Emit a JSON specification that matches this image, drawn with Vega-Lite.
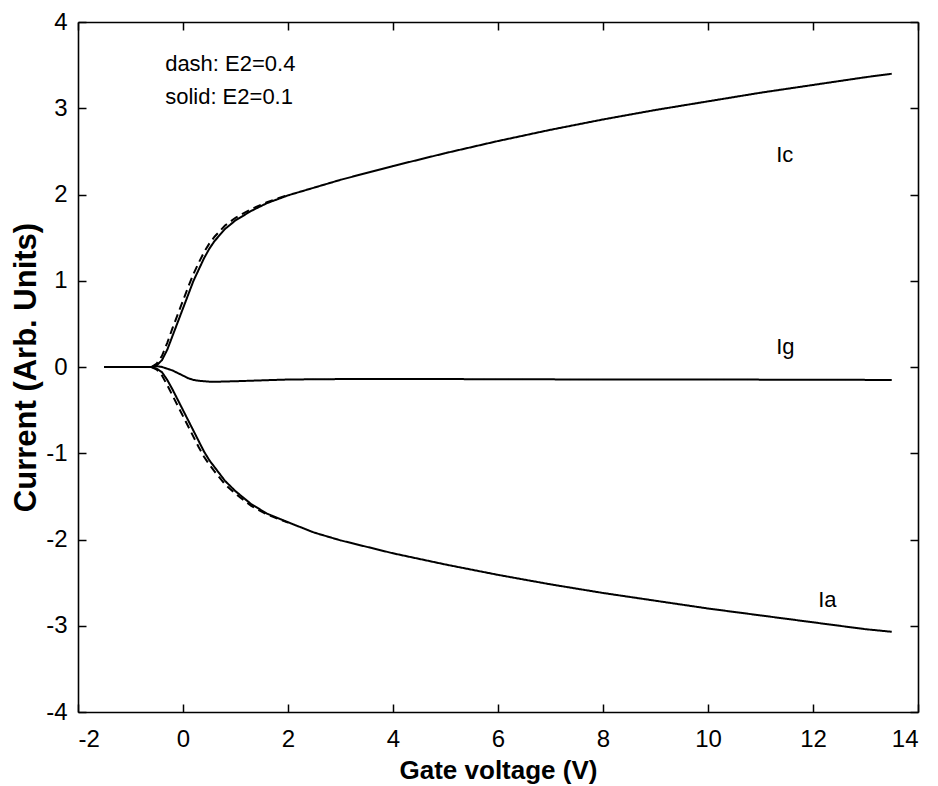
{
  "$schema": "https://vega.github.io/schema/vega-lite/v6.json",
  "width": 840,
  "height": 690,
  "autosize": {"type": "none"},
  "padding": {"left": 78, "top": 22, "right": 20, "bottom": 74},
  "background": "white",
  "config": {
    "view": {"stroke": null},
    "axis": {
      "grid": false,
      "domainColor": "black",
      "domainWidth": 1.6,
      "tickColor": "black",
      "tickWidth": 1.5,
      "tickSize": -8,
      "labelFont": "Liberation Sans",
      "labelFontSize": 24,
      "labelColor": "black",
      "labelExpr": "datum.value + ''",
      "titleFont": "Liberation Sans",
      "titleFontWeight": "bold",
      "titleColor": "black"
    }
  },
  "datasets": {
    "curves": [
      {"series": "Ic-solid", "case": "solid", "x": -1.5, "y": 0},
      {"series": "Ic-solid", "case": "solid", "x": -1.0, "y": 0},
      {"series": "Ic-solid", "case": "solid", "x": -0.6, "y": 0},
      {"series": "Ic-solid", "case": "solid", "x": -0.5, "y": 0.02},
      {"series": "Ic-solid", "case": "solid", "x": -0.4, "y": 0.08},
      {"series": "Ic-solid", "case": "solid", "x": -0.3, "y": 0.2},
      {"series": "Ic-solid", "case": "solid", "x": -0.2, "y": 0.36},
      {"series": "Ic-solid", "case": "solid", "x": -0.1, "y": 0.52},
      {"series": "Ic-solid", "case": "solid", "x": 0.0, "y": 0.68},
      {"series": "Ic-solid", "case": "solid", "x": 0.1, "y": 0.84},
      {"series": "Ic-solid", "case": "solid", "x": 0.2, "y": 1.0},
      {"series": "Ic-solid", "case": "solid", "x": 0.3, "y": 1.13},
      {"series": "Ic-solid", "case": "solid", "x": 0.4, "y": 1.26},
      {"series": "Ic-solid", "case": "solid", "x": 0.5, "y": 1.37},
      {"series": "Ic-solid", "case": "solid", "x": 0.6, "y": 1.46},
      {"series": "Ic-solid", "case": "solid", "x": 0.8, "y": 1.6},
      {"series": "Ic-solid", "case": "solid", "x": 1.0, "y": 1.7},
      {"series": "Ic-solid", "case": "solid", "x": 1.3, "y": 1.81},
      {"series": "Ic-solid", "case": "solid", "x": 1.6, "y": 1.9},
      {"series": "Ic-solid", "case": "solid", "x": 2.0, "y": 1.99},
      {"series": "Ic-solid", "case": "solid", "x": 2.5, "y": 2.08},
      {"series": "Ic-solid", "case": "solid", "x": 3.0, "y": 2.17},
      {"series": "Ic-solid", "case": "solid", "x": 4.0, "y": 2.33},
      {"series": "Ic-solid", "case": "solid", "x": 5.0, "y": 2.48},
      {"series": "Ic-solid", "case": "solid", "x": 6.0, "y": 2.62},
      {"series": "Ic-solid", "case": "solid", "x": 7.0, "y": 2.75},
      {"series": "Ic-solid", "case": "solid", "x": 8.0, "y": 2.87},
      {"series": "Ic-solid", "case": "solid", "x": 9.0, "y": 2.98},
      {"series": "Ic-solid", "case": "solid", "x": 10.0, "y": 3.08},
      {"series": "Ic-solid", "case": "solid", "x": 11.0, "y": 3.18},
      {"series": "Ic-solid", "case": "solid", "x": 12.0, "y": 3.27},
      {"series": "Ic-solid", "case": "solid", "x": 13.0, "y": 3.36},
      {"series": "Ic-solid", "case": "solid", "x": 13.5, "y": 3.4},

      {"series": "Ic-dash", "case": "dash", "x": -0.6, "y": 0},
      {"series": "Ic-dash", "case": "dash", "x": -0.5, "y": 0.04},
      {"series": "Ic-dash", "case": "dash", "x": -0.4, "y": 0.13},
      {"series": "Ic-dash", "case": "dash", "x": -0.3, "y": 0.28},
      {"series": "Ic-dash", "case": "dash", "x": -0.2, "y": 0.45},
      {"series": "Ic-dash", "case": "dash", "x": -0.1, "y": 0.61},
      {"series": "Ic-dash", "case": "dash", "x": 0.0, "y": 0.77},
      {"series": "Ic-dash", "case": "dash", "x": 0.1, "y": 0.93},
      {"series": "Ic-dash", "case": "dash", "x": 0.2, "y": 1.08},
      {"series": "Ic-dash", "case": "dash", "x": 0.3, "y": 1.21},
      {"series": "Ic-dash", "case": "dash", "x": 0.4, "y": 1.33},
      {"series": "Ic-dash", "case": "dash", "x": 0.5, "y": 1.43},
      {"series": "Ic-dash", "case": "dash", "x": 0.6, "y": 1.51},
      {"series": "Ic-dash", "case": "dash", "x": 0.8, "y": 1.64},
      {"series": "Ic-dash", "case": "dash", "x": 1.0, "y": 1.73},
      {"series": "Ic-dash", "case": "dash", "x": 1.3, "y": 1.83},
      {"series": "Ic-dash", "case": "dash", "x": 1.6, "y": 1.91},
      {"series": "Ic-dash", "case": "dash", "x": 2.0, "y": 1.995},

      {"series": "Ia-solid", "case": "solid", "x": -1.5, "y": 0},
      {"series": "Ia-solid", "case": "solid", "x": -0.6, "y": 0},
      {"series": "Ia-solid", "case": "solid", "x": -0.5, "y": -0.02},
      {"series": "Ia-solid", "case": "solid", "x": -0.4, "y": -0.06},
      {"series": "Ia-solid", "case": "solid", "x": -0.3, "y": -0.15},
      {"series": "Ia-solid", "case": "solid", "x": -0.2, "y": -0.26},
      {"series": "Ia-solid", "case": "solid", "x": -0.1, "y": -0.38},
      {"series": "Ia-solid", "case": "solid", "x": 0.0, "y": -0.5},
      {"series": "Ia-solid", "case": "solid", "x": 0.1, "y": -0.62},
      {"series": "Ia-solid", "case": "solid", "x": 0.2, "y": -0.74},
      {"series": "Ia-solid", "case": "solid", "x": 0.3, "y": -0.86},
      {"series": "Ia-solid", "case": "solid", "x": 0.4, "y": -0.98},
      {"series": "Ia-solid", "case": "solid", "x": 0.5, "y": -1.08},
      {"series": "Ia-solid", "case": "solid", "x": 0.6, "y": -1.16},
      {"series": "Ia-solid", "case": "solid", "x": 0.8, "y": -1.32},
      {"series": "Ia-solid", "case": "solid", "x": 1.0, "y": -1.44},
      {"series": "Ia-solid", "case": "solid", "x": 1.3, "y": -1.59},
      {"series": "Ia-solid", "case": "solid", "x": 1.6, "y": -1.7},
      {"series": "Ia-solid", "case": "solid", "x": 2.0, "y": -1.8},
      {"series": "Ia-solid", "case": "solid", "x": 2.5, "y": -1.92},
      {"series": "Ia-solid", "case": "solid", "x": 3.0, "y": -2.01},
      {"series": "Ia-solid", "case": "solid", "x": 4.0, "y": -2.16},
      {"series": "Ia-solid", "case": "solid", "x": 5.0, "y": -2.29},
      {"series": "Ia-solid", "case": "solid", "x": 6.0, "y": -2.41},
      {"series": "Ia-solid", "case": "solid", "x": 7.0, "y": -2.52},
      {"series": "Ia-solid", "case": "solid", "x": 8.0, "y": -2.62},
      {"series": "Ia-solid", "case": "solid", "x": 9.0, "y": -2.71},
      {"series": "Ia-solid", "case": "solid", "x": 10.0, "y": -2.8},
      {"series": "Ia-solid", "case": "solid", "x": 11.0, "y": -2.88},
      {"series": "Ia-solid", "case": "solid", "x": 12.0, "y": -2.96},
      {"series": "Ia-solid", "case": "solid", "x": 13.0, "y": -3.04},
      {"series": "Ia-solid", "case": "solid", "x": 13.5, "y": -3.07},

      {"series": "Ia-dash", "case": "dash", "x": -0.6, "y": 0},
      {"series": "Ia-dash", "case": "dash", "x": -0.5, "y": -0.03},
      {"series": "Ia-dash", "case": "dash", "x": -0.4, "y": -0.1},
      {"series": "Ia-dash", "case": "dash", "x": -0.3, "y": -0.21},
      {"series": "Ia-dash", "case": "dash", "x": -0.2, "y": -0.33},
      {"series": "Ia-dash", "case": "dash", "x": -0.1, "y": -0.45},
      {"series": "Ia-dash", "case": "dash", "x": 0.0, "y": -0.57},
      {"series": "Ia-dash", "case": "dash", "x": 0.1, "y": -0.69},
      {"series": "Ia-dash", "case": "dash", "x": 0.2, "y": -0.81},
      {"series": "Ia-dash", "case": "dash", "x": 0.3, "y": -0.93},
      {"series": "Ia-dash", "case": "dash", "x": 0.4, "y": -1.04},
      {"series": "Ia-dash", "case": "dash", "x": 0.5, "y": -1.13},
      {"series": "Ia-dash", "case": "dash", "x": 0.6, "y": -1.21},
      {"series": "Ia-dash", "case": "dash", "x": 0.8, "y": -1.36},
      {"series": "Ia-dash", "case": "dash", "x": 1.0, "y": -1.47},
      {"series": "Ia-dash", "case": "dash", "x": 1.3, "y": -1.61},
      {"series": "Ia-dash", "case": "dash", "x": 1.6, "y": -1.71},
      {"series": "Ia-dash", "case": "dash", "x": 2.0, "y": -1.805},

      {"series": "Ig-solid", "case": "solid", "x": -1.5, "y": 0},
      {"series": "Ig-solid", "case": "solid", "x": -0.6, "y": 0},
      {"series": "Ig-solid", "case": "solid", "x": -0.5, "y": 0.01},
      {"series": "Ig-solid", "case": "solid", "x": -0.4, "y": 0.0},
      {"series": "Ig-solid", "case": "solid", "x": -0.3, "y": -0.02},
      {"series": "Ig-solid", "case": "solid", "x": -0.2, "y": -0.04},
      {"series": "Ig-solid", "case": "solid", "x": -0.1, "y": -0.07},
      {"series": "Ig-solid", "case": "solid", "x": 0.0, "y": -0.1},
      {"series": "Ig-solid", "case": "solid", "x": 0.1, "y": -0.13},
      {"series": "Ig-solid", "case": "solid", "x": 0.2, "y": -0.15},
      {"series": "Ig-solid", "case": "solid", "x": 0.3, "y": -0.16},
      {"series": "Ig-solid", "case": "solid", "x": 0.5, "y": -0.17},
      {"series": "Ig-solid", "case": "solid", "x": 0.7, "y": -0.17},
      {"series": "Ig-solid", "case": "solid", "x": 1.0, "y": -0.165},
      {"series": "Ig-solid", "case": "solid", "x": 1.5, "y": -0.155},
      {"series": "Ig-solid", "case": "solid", "x": 2.0, "y": -0.145},
      {"series": "Ig-solid", "case": "solid", "x": 3.0, "y": -0.14},
      {"series": "Ig-solid", "case": "solid", "x": 5.0, "y": -0.14},
      {"series": "Ig-solid", "case": "solid", "x": 8.0, "y": -0.145},
      {"series": "Ig-solid", "case": "solid", "x": 10.0, "y": -0.145},
      {"series": "Ig-solid", "case": "solid", "x": 13.5, "y": -0.15}
    ],
    "labels": [
      {"x": -0.34, "y": 3.51, "text": "dash: E2=0.4"},
      {"x": -0.34, "y": 3.13, "text": "solid: E2=0.1"},
      {"x": 11.3, "y": 2.46, "text": "Ic"},
      {"x": 11.3, "y": 0.23, "text": "Ig"},
      {"x": 12.1, "y": -2.7, "text": "Ia"}
    ]
  },
  "layer": [
    {
      "data": {"name": "curves"},
      "mark": {"type": "line", "color": "black", "strokeWidth": 2, "clip": true},
      "encoding": {
        "x": {
          "field": "x", "type": "quantitative",
          "scale": {"domain": [-2, 14], "nice": false, "zero": false},
          "axis": {"values": [-2, 0, 2, 4, 6, 8, 10, 12, 14], "title": "Gate voltage (V)", "titleFontSize": 26, "labelPadding": 23, "titlePadding": 6}
        },
        "y": {
          "field": "y", "type": "quantitative",
          "scale": {"domain": [-4, 4], "nice": false, "zero": false},
          "axis": {"values": [-4, -3, -2, -1, 0, 1, 2, 3, 4], "title": "Current (Arb. Units)", "titleFontSize": 31, "labelPadding": 19, "titlePadding": 3}
        },
        "detail": {"field": "series"},
        "strokeDash": {
          "field": "case", "type": "nominal",
          "scale": {"domain": ["solid", "dash"], "range": [[1, 0], [8, 5]]},
          "legend": null
        }
      }
    },
    {
      "data": {"name": "labels"},
      "mark": {"type": "text", "align": "left", "baseline": "middle", "font": "Liberation Sans", "fontSize": 22, "color": "black"},
      "encoding": {
        "x": {"field": "x", "type": "quantitative", "axis": {"orient": "top", "values": [-2, 0, 2, 4, 6, 8, 10, 12, 14], "labels": false, "title": null}},
        "y": {"field": "y", "type": "quantitative", "axis": {"orient": "right", "values": [-4, -3, -2, -1, 0, 1, 2, 3, 4], "labels": false, "title": null}},
        "text": {"field": "text"}
      }
    }
  ],
  "resolve": {"axis": {"x": "independent", "y": "independent"}}
}
